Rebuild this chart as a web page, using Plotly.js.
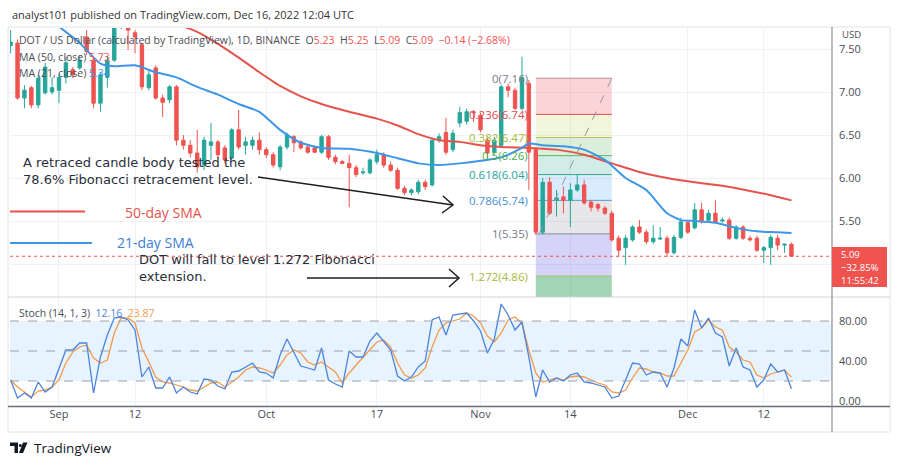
<!DOCTYPE html>
<html><head><meta charset="utf-8">
<script src="https://cdn.plot.ly/plotly-3.0.1.min.js"></script>
<style>html,body{margin:0;padding:0;background:#fff;}#chart{width:900px;height:464px;}</style>
</head><body><div id="chart"></div>
<script>
// ---------------- DATA ----------------
const startDate = '2022-08-25';
const open = [7.54,7.57,6.93,7.05,6.85,6.99,7.00,7.02,7.17,7.26,
7.28,7.64,7.37,6.87,7.17,7.37,7.76,7.76,7.69,7.55,
7.05,7.28,6.93,6.91,7.06,6.44,6.38,6.29,6.15,6.38,
6.42,6.35,6.23,6.56,6.38,6.38,6.44,6.33,6.27,6.13,
6.36,6.48,6.42,6.36,6.35,6.30,6.48,6.24,6.19,6.17,
6.12,6.06,6.06,6.19,6.27,6.15,6.09,5.88,5.83,5.84,
5.95,5.92,6.44,6.53,6.33,6.64,6.66,6.77,6.73,6.44,
6.30,6.38,7.06,7.02,6.81,7.10,6.33,5.37,5.95,5.74,
5.78,5.74,5.86,5.92,5.72,5.69,5.65,5.59,5.30,5.19,
5.28,5.43,5.37,5.26,5.29,5.30,5.13,5.31,5.48,5.42,
5.63,5.51,5.59,5.50,5.51,5.30,5.43,5.30,5.30,5.16,
5.19,5.30,5.22,5.23];
const high = [7.72,7.61,7.08,7.07,7.20,7.34,7.17,7.21,7.41,7.29,
7.43,7.72,7.41,7.23,7.41,7.78,7.81,7.78,7.72,7.57,
7.26,7.31,6.97,7.08,7.08,6.50,6.44,6.56,6.48,6.64,
6.44,6.38,6.58,6.79,6.48,6.48,6.53,6.36,6.30,6.38,
6.53,6.50,6.44,6.38,6.37,6.50,6.50,6.27,6.21,6.27,
6.15,6.12,6.23,6.33,6.30,6.19,6.12,5.91,5.88,5.98,
5.98,6.47,6.52,6.70,6.56,6.83,6.81,6.79,6.76,6.48,
6.48,7.08,7.10,7.05,7.41,7.14,6.36,6.00,6.01,5.86,
5.90,5.94,6.04,5.98,5.74,5.71,5.67,5.62,5.33,5.34,
5.45,5.51,5.40,5.45,5.43,5.33,5.34,5.54,5.50,5.71,
5.71,5.63,5.74,5.54,5.54,5.45,5.45,5.33,5.33,5.21,
5.34,5.34,5.24,5.25];
const low = [7.45,6.91,6.81,6.81,6.81,6.97,6.97,6.87,7.10,7.16,
7.26,7.43,6.81,6.77,7.05,7.35,7.73,7.49,7.45,7.02,
7.02,6.91,6.71,6.87,6.38,6.33,6.24,6.06,6.09,6.21,
6.23,6.17,6.21,6.33,6.27,6.33,6.27,6.23,6.12,6.09,
6.33,6.30,6.33,6.28,6.29,6.28,6.21,6.16,6.16,5.66,
6.01,6.04,6.04,6.16,6.12,6.07,5.86,5.80,5.80,5.81,
5.86,5.90,6.41,6.27,6.30,6.59,6.62,6.65,6.53,6.23,
6.27,6.36,6.94,6.79,6.79,5.86,5.34,5.34,5.57,5.55,
5.59,5.43,5.84,5.69,5.61,5.61,5.57,5.26,5.08,4.99,
5.26,5.35,5.23,5.23,5.28,5.08,5.11,5.29,5.35,5.40,
5.47,5.49,5.47,5.48,5.28,5.28,5.28,5.26,5.14,5.01,
4.99,5.16,5.13,5.09];
const close = [7.58,6.93,7.02,6.85,7.16,7.29,7.05,7.17,7.34,7.20,
7.37,7.47,6.87,7.20,7.37,7.76,7.78,7.72,7.64,7.06,
7.20,6.93,6.88,7.06,6.44,6.38,6.29,6.13,6.44,6.42,
6.27,6.21,6.56,6.36,6.42,6.44,6.33,6.27,6.15,6.36,
6.50,6.41,6.35,6.30,6.30,6.48,6.24,6.19,6.17,6.12,
6.04,6.07,6.21,6.27,6.15,6.09,5.88,5.83,5.86,5.95,
5.90,6.44,6.48,6.30,6.52,6.76,6.77,6.76,6.56,6.29,
6.44,7.06,7.02,6.81,7.17,6.30,5.37,5.95,5.59,5.77,
5.74,5.86,5.92,5.71,5.66,5.65,5.59,5.28,5.16,5.30,
5.43,5.37,5.26,5.30,5.30,5.13,5.31,5.49,5.37,5.63,
5.49,5.59,5.49,5.51,5.30,5.43,5.30,5.28,5.16,5.19,
5.31,5.22,5.23,5.09];

const stochK = [21,3,8,3,19,9,14,33,51,51,
58,58,8,44,66,83,84,81,71,24,
34,13,13,24,8,14,9,7,22,21,
15,12,29,30,34,38,29,28,23,46,
62,49,35,33,31,53,21,17,14,50,
44,44,60,68,60,51,25,20,24,34,
40,81,84,66,86,87,88,80,70,48,
62,97,86,71,79,44,4,31,19,23,
20,26,28,19,18,16,14,3,5,21,
38,37,26,29,28,14,33,62,55,91,
73,83,68,64,35,53,34,31,14,21,
37,29,31,12.16];
const stochD = [21,14,9,4,10,11,14,21,38,49,
54,56,43,38,41,68,83,83,78,53,
39,24,19,18,16,14,11,10,14,18,
19,14,19,24,31,34,33,31,28,36,
46,51,48,39,36,39,34,29,18,28,
36,44,51,59,61,54,38,26,23,26,
33,54,71,78,80,82,88,85,78,65,
59,68,81,84,78,51,28,19,21,23,
21,24,25,24,21,18,16,9,8,11,
23,33,32,29,28,25,25,38,51,69,
73,81,74,71,54,49,41,39,26,23,
27,29,31,23.87];

const sma50Dates = ['2022-09-18','2022-09-21','2022-09-24','2022-09-27','2022-09-30','2022-10-03','2022-10-06','2022-10-09','2022-10-13','2022-10-17','2022-10-20','2022-10-23','2022-10-26','2022-10-29','2022-11-01','2022-11-04','2022-11-08','2022-11-12','2022-11-16','2022-11-20','2022-11-24','2022-11-28','2022-12-02','2022-12-06','2022-12-10','2022-12-13','2022-12-16'];
const sma50 = [7.79,7.70,7.56,7.40,7.23,7.07,6.95,6.86,6.77,6.69,6.61,6.51,6.44,6.42,6.38,6.36,6.35,6.33,6.27,6.17,6.07,6.00,5.95,5.91,5.85,5.80,5.74];
const sma21Dates = ['2022-09-01','2022-09-04','2022-09-07','2022-09-09','2022-09-12','2022-09-15','2022-09-18','2022-09-21','2022-09-24','2022-09-27','2022-09-30','2022-10-03','2022-10-06','2022-10-09','2022-10-13','2022-10-17','2022-10-20','2022-10-23','2022-10-26','2022-10-29','2022-11-01','2022-11-04','2022-11-07','2022-11-08','2022-11-10','2022-11-13','2022-11-16','2022-11-19','2022-11-22','2022-11-25','2022-11-28','2022-11-30','2022-12-02','2022-12-05','2022-12-08','2022-12-11','2022-12-14','2022-12-16'];
const sma21 = [7.76,7.57,7.33,7.30,7.31,7.23,7.17,7.06,6.97,6.86,6.77,6.56,6.41,6.35,6.34,6.29,6.23,6.17,6.15,6.17,6.20,6.24,6.35,6.40,6.38,6.37,6.33,6.21,6.00,5.86,5.59,5.51,5.50,5.48,5.42,5.38,5.37,5.36];
const sma50Last = '5.73';
const sma21Last = '5.34';

const fibLevels = [0, 0.236, 0.382, 0.5, 0.618, 0.786, 1, 1.272];
const fibPrices = [7.16, 6.74, 6.47, 6.26, 6.04, 5.74, 5.35, 4.86];
const fibStart = '2022-11-09';
const fibEnd = '2022-11-20';

const xTickDates = ['2022-09-01','2022-09-12','2022-10-01','2022-10-17','2022-11-01','2022-11-14','2022-12-01','2022-12-12'];
const xTickLabels = ['Sep','12','Oct','17','Nov','14','Dec','12'];
const priceTicks = [5.0, 5.5, 6.0, 6.5, 7.0, 7.5];
const priceTickLabels = ['', '5.50', '6.00', '6.50', '7.00', '7.50'];
const stochTicks = [0, 40, 80];
const stochLevels = [20, 50, 80];
const pctChangeLabel = '\u221232.85%';
const countdownLabel = '11:55:42';

// ---------------- STYLE ----------------
const FONT = 'Open Sans, sans-serif';
const NOTE_FONT = 'DejaVu Sans, sans-serif';
const UP = '#26a69a', DOWN = '#ef5350';
const fibLineColors = ['#b98d91','#e0494f','#b9c45a','#5cb85c','#3aa88f','#5a9bd8','#8a8d96','#9ccc65'];
const fibTextColors = ['#787b86','#e0494f','#a9b83a','#4caf50','#26a69a','#4a8fd8','#787b86','#a9b83a'];
const fibFills = ['rgba(242,54,69,0.22)','rgba(190,210,80,0.22)','rgba(76,175,80,0.2)','rgba(8,153,129,0.18)','rgba(100,181,246,0.25)','rgba(120,123,134,0.18)','rgba(90,80,230,0.25)','rgba(50,160,90,0.45)'];

function addDays(s, n) { const d = new Date(s + 'T00:00:00Z'); d.setUTCDate(d.getUTCDate() + n); return d.toISOString().slice(0, 10); }
const dates = open.map((_, i) => addDays(startDate, i));

const L = 10, R = 68, T = 28, B = 58, W = 900, H = 464;
const PW = W - L - R, PH = H - T - B;
const PX = x => (x - L) / PW;
const PY = y => (H - B - y) / PH;
const P = (x, y) => PX(x).toFixed(5) + ',' + PY(y).toFixed(5);
const PRICE_RANGE = [4.6163, 7.7442];
const STOCH_RANGE = [-5, 104];
const splitDom = 109 / PH;
function PRICE_Y(p) { const top = T, bot = T + PH * (1 - splitDom); return top + (PRICE_RANGE[1] - p) / (PRICE_RANGE[1] - PRICE_RANGE[0]) * (bot - top); }

const traces = [
  { type: 'candlestick', x: dates, open: open, high: high, low: low, close: close,
    xaxis: 'x', yaxis: 'y', whiskerwidth: 0, hoverinfo: 'skip',
    increasing: { line: { color: UP, width: 1 }, fillcolor: UP },
    decreasing: { line: { color: DOWN, width: 1 }, fillcolor: DOWN } },
  { type: 'scatter', mode: 'lines', x: sma50Dates, y: sma50, xaxis: 'x', yaxis: 'y',
    line: { color: '#e5534b', width: 2, shape: 'spline', smoothing: 0.6 }, hoverinfo: 'skip' },
  { type: 'scatter', mode: 'lines', x: sma21Dates, y: sma21, xaxis: 'x', yaxis: 'y',
    line: { color: '#3d96e6', width: 2, shape: 'spline', smoothing: 0.6 }, hoverinfo: 'skip' },
  { type: 'scatter', mode: 'lines', x: dates, y: stochD, xaxis: 'x', yaxis: 'y2',
    line: { color: '#f39a4c', width: 1.3 }, hoverinfo: 'skip' },
  { type: 'scatter', mode: 'lines', x: dates, y: stochK, xaxis: 'x', yaxis: 'y2',
    line: { color: '#4a84e0', width: 1.3 }, hoverinfo: 'skip' }
];

const shapes = [];
shapes.push({ type: 'rect', xref: 'paper', yref: 'y2', x0: 0, x1: 1, y0: stochLevels[0], y1: stochLevels[2],
  fillcolor: 'rgba(33,150,243,0.11)', line: { width: 0 }, layer: 'below' });
stochLevels.forEach(v => shapes.push({ type: 'line', xref: 'paper', yref: 'y2', x0: 0, x1: 1, y0: v, y1: v,
  line: { color: '#9aa0ab', width: 1, dash: 'dash' } }));
fibPrices.forEach((p, i) => {
  const next = i < fibPrices.length - 1 ? fibPrices[i + 1] : PRICE_RANGE[0];
  shapes.push({ type: 'rect', xref: 'x', yref: 'y', x0: fibStart, x1: fibEnd, y0: next, y1: p,
    fillcolor: fibFills[i], line: { width: 0 }, layer: 'between' });
});
fibPrices.forEach((p, i) => shapes.push({ type: 'line', xref: 'x', yref: 'y', x0: fibStart, x1: fibEnd, y0: p, y1: p,
  line: { color: fibLineColors[i], width: 1 }, layer: 'between' }));
shapes.push({ type: 'line', xref: 'x', yref: 'y', x0: fibStart + ' 12:00', x1: fibEnd, y0: fibPrices[6], y1: fibPrices[0],
  line: { color: '#9598a1', width: 1, dash: 'dash' } });
shapes.push({ type: 'line', xref: 'paper', yref: 'y', x0: 0, x1: 1, y0: close[close.length - 1], y1: close[close.length - 1],
  line: { color: '#ef5350', width: 1, dash: 'dot' } });
shapes.push({ type: 'rect', xref: 'paper', yref: 'paper', x0: PX(8), x1: PX(890), y0: PY(432), y1: PY(27),
  line: { color: '#e0e3eb', width: 1 } });
shapes.push({ type: 'line', xref: 'paper', yref: 'paper', x0: PX(8), x1: PX(890), y0: PY(297), y1: PY(297),
  line: { color: '#d1d4dc', width: 1 } });
shapes.push({ type: 'line', xref: 'paper', yref: 'paper', x0: PX(8), x1: PX(890), y0: PY(406.5), y1: PY(406.5),
  line: { color: '#6a6d78', width: 1.5 } });
shapes.push({ type: 'line', xref: 'paper', yref: 'paper', x0: PX(832), x1: PX(832), y0: PY(432), y1: PY(27),
  line: { color: '#8a8d96', width: 1.2 } });
shapes.push({ type: 'line', xref: 'paper', yref: 'paper', x0: PX(10), x1: PX(85), y0: PY(211.5), y1: PY(211.5),
  line: { color: '#e5534b', width: 2 } });
shapes.push({ type: 'line', xref: 'paper', yref: 'paper', x0: PX(10), x1: PX(92), y0: PY(243), y1: PY(243),
  line: { color: '#3d96e6', width: 2 } });
const arrowStyle = { color: '#1e1e1e', width: 1.5 };
shapes.push({ type: 'path', xref: 'paper', yref: 'paper', path: 'M' + P(258, 177) + ' L' + P(453, 205), line: arrowStyle });
shapes.push({ type: 'path', xref: 'paper', yref: 'paper', path: 'M' + P(443, 196) + ' L' + P(453, 205) + ' L' + P(442, 213), line: arrowStyle });
shapes.push({ type: 'path', xref: 'paper', yref: 'paper', path: 'M' + P(307, 278) + ' L' + P(459, 278), line: arrowStyle });
shapes.push({ type: 'path', xref: 'paper', yref: 'paper', path: 'M' + P(449, 269) + ' L' + P(459, 278) + ' L' + P(449, 287), line: arrowStyle });
shapes.push({ type: 'rect', xref: 'paper', yref: 'paper', x0: PX(832), x1: PX(887), y0: PY(287), y1: PY(247),
  fillcolor: '#ef5350', line: { width: 0 } });
shapes.push({ type: 'path', xref: 'paper', yref: 'paper', path: 'M' + P(10, 442.5) + ' L' + P(18, 442.5) + ' L' + P(18, 453) + ' L' + P(14.5, 453) + ' L' + P(14.5, 446) + ' L' + P(10, 446) + ' Z',
  fillcolor: '#131722', line: { width: 0 } });
shapes.push({ type: 'circle', xref: 'paper', yref: 'paper', x0: PX(18.8), x1: PX(21.8), y0: PY(447), y1: PY(444),
  fillcolor: '#131722', line: { width: 0 } });
shapes.push({ type: 'path', xref: 'paper', yref: 'paper', path: 'M' + P(23, 442.5) + ' L' + P(27.5, 442.5) + ' L' + P(23, 453) + ' L' + P(19, 453) + ' Z',
  fillcolor: '#131722', line: { width: 0 } });

const annotations = [];
function txt(x, y, text, size, color, xanchor, family) {
  annotations.push({ xref: 'paper', yref: 'paper', x: PX(x), y: PY(y), text: text, showarrow: false,
    xanchor: xanchor || 'left', yanchor: 'middle', align: 'left', font: { family: family || FONT, size: size, color: color } });
}
const red = s => '<span style="color:#ef5350">' + s + '</span>';
const n = close.length - 1;
const chg = close[n] - close[n - 1];
const chgPct = chg / close[n - 1] * 100;
const minus = v => (v < 0 ? '\u2212' : '') + Math.abs(v).toFixed(2);
txt(10, 14, 'analyst101 published on TradingView.com, Dec 16, 2022 12:04 UTC', 11, '#333333');
txt(17, 40, 'DOT / US Dollar (calculated by TradingView), 1D, BINANCE\u00a0\u00a0O' + red(open[n].toFixed(2)) +
  '\u00a0\u00a0H' + red(high[n].toFixed(2)) + '\u00a0\u00a0L' + red(low[n].toFixed(2)) + '\u00a0\u00a0C' + red(close[n].toFixed(2)) +
  '\u00a0\u00a0' + red(minus(chg) + ' (' + minus(chgPct) + '%)'), 10.5, '#4a4d57');
txt(17, 57, 'MA (50, close)\u00a0' + red(sma50Last), 10.5, '#4a4d57');
txt(17, 73, 'MA (21, close)\u00a0<span style="color:#3d96e6">' + sma21Last + '</span>', 10.5, '#4a4d57');
fibLevels.forEach((lv, i) => txt(530, PRICE_Y(fibPrices[i]), lv + '(' + fibPrices[i].toFixed(2) + ')', 11.5, fibTextColors[i], 'right'));
txt(21, 171, 'A retraced candle body tested the<br>78.6% Fibonacci retracement level.', 13, '#2a2e39', 'left', NOTE_FONT);
txt(123, 212, '50-day SMA', 14, '#e5534b');
txt(115, 242, '21-day SMA', 14, '#3d7fd6');
txt(137, 267.5, 'DOT will fall to level 1.272 Fibonacci<br>extension.', 13, '#2a2e39', 'left', NOTE_FONT);
txt(840, 35, 'USD', 9.5, '#4a4d57');
txt(839, 254.5, close[n].toFixed(2), 9.5, '#ffffff');
txt(839, 267.3, pctChangeLabel, 9.5, '#ffffff');
txt(839, 280.1, countdownLabel, 9.5, '#ffffff');
txt(17, 313, 'Stoch (14, 1, 3)\u00a0\u00a0<span style="color:#4a84e0">' + stochK[n].toFixed(2) + '</span>\u00a0\u00a0<span style="color:#f39a4c">' + stochD[n].toFixed(2) + '</span>', 10.5, '#4a4d57');
txt(32, 448, 'TradingView', 13.5, '#131722');

const layout = {
  width: W, height: H, margin: { l: L, r: R, t: T, b: B },
  paper_bgcolor: '#ffffff', plot_bgcolor: '#ffffff', showlegend: false,
  xaxis: { type: 'date', anchor: 'y2', range: ['2022-08-24 21:50', '2022-12-21 20:50'],
    tickvals: xTickDates, ticktext: xTickLabels, showgrid: true, gridcolor: '#eef1f6', gridwidth: 1,
    zeroline: false, showline: false, ticks: '', tickfont: { family: FONT, size: 11, color: '#4a4d57' },
    rangeslider: { visible: false }, fixedrange: true },
  yaxis: { domain: [splitDom, 1], range: PRICE_RANGE, side: 'right', tickvals: priceTicks,
    ticktext: priceTickLabels, showgrid: true, gridcolor: '#eef1f6', zeroline: false,
    showline: false, ticks: '', ticklabelstandoff: 6, tickfont: { family: FONT, size: 11, color: '#4a4d57' }, fixedrange: true },
  yaxis2: { domain: [0, splitDom], range: STOCH_RANGE, side: 'right', tickvals: stochTicks,
    ticktext: stochTicks.map(v => v.toFixed(2)), showgrid: true, gridcolor: '#eef1f6', zeroline: false,
    showline: false, ticks: '', ticklabelstandoff: 6, tickfont: { family: FONT, size: 11, color: '#4a4d57' }, fixedrange: true },
  shapes: shapes, annotations: annotations
};
Plotly.newPlot('chart', traces, layout, { staticPlot: true, displayModeBar: false });
</script></body></html>
